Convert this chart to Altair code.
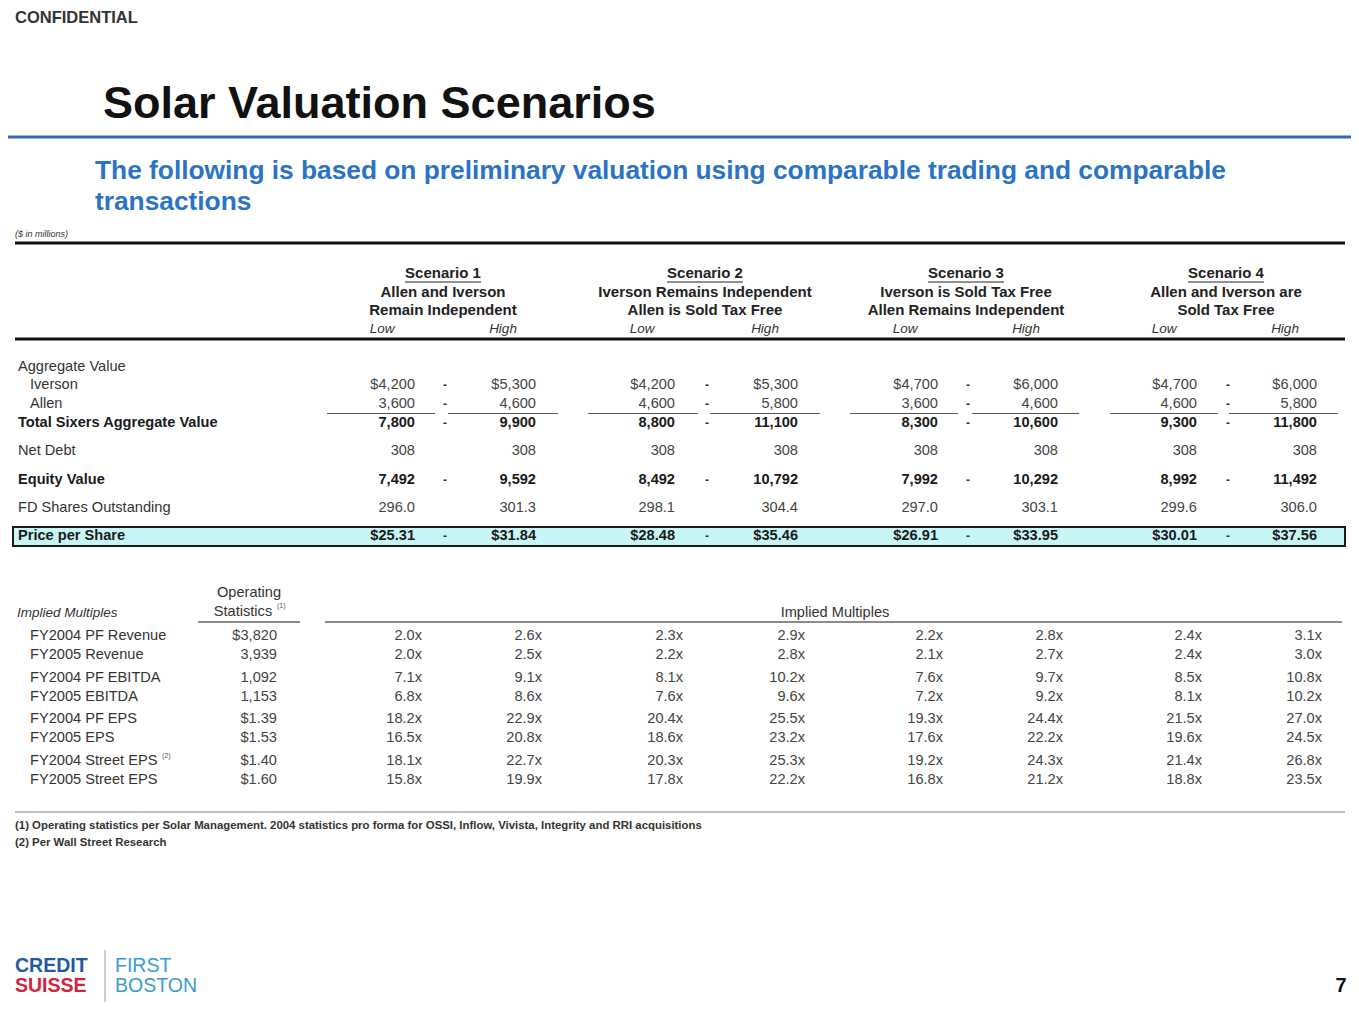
import altair as alt
import pandas as pd

# ------------------------------------------------------------------ data
confidential = "CONFIDENTIAL"
title = "Solar Valuation Scenarios"
subtitle_lines = [
    "The following is based on preliminary valuation using comparable trading and comparable",
    "transactions",
]
units_note = "($ in millions)"

scenario_titles = ["Scenario 1", "Scenario 2", "Scenario 3", "Scenario 4"]
scenario_lines = [
    ["Allen and Iverson", "Remain Independent"],
    ["Iverson Remains Independent", "Allen is Sold Tax Free"],
    ["Iverson is Sold Tax Free", "Allen Remains Independent"],
    ["Allen and Iverson are", "Sold Tax Free"],
]
range_labels = ["Low", "High"]

valuation_labels = [
    "Aggregate Value", "Iverson", "Allen", "Total Sixers Aggregate Value",
    "Net Debt", "Equity Value", "FD Shares Outstanding", "Price per Share",
]
# values per row: S1 Low, S1 High, S2 Low, S2 High, S3 Low, S3 High, S4 Low, S4 High
iverson_values = ["$4,200", "$5,300", "$4,200", "$5,300", "$4,700", "$6,000", "$4,700", "$6,000"]
allen_values = ["3,600", "4,600", "4,600", "5,800", "3,600", "4,600", "4,600", "5,800"]
total_values = ["7,800", "9,900", "8,800", "11,100", "8,300", "10,600", "9,300", "11,800"]
net_debt_values = ["308", "308", "308", "308", "308", "308", "308", "308"]
equity_values = ["7,492", "9,592", "8,492", "10,792", "7,992", "10,292", "8,992", "11,492"]
shares_values = ["296.0", "301.3", "298.1", "304.4", "297.0", "303.1", "299.6", "306.0"]
price_values = ["$25.31", "$31.84", "$28.48", "$35.46", "$26.91", "$33.95", "$30.01", "$37.56"]

multiples_left_title = "Implied Multiples"
multiples_center_title = "Implied Multiples"
operating_header = ["Operating", "Statistics"]
multiple_labels = [
    "FY2004 PF Revenue", "FY2005 Revenue", "FY2004 PF EBITDA", "FY2005 EBITDA",
    "FY2004 PF EPS", "FY2005 EPS", "FY2004 Street EPS", "FY2005 Street EPS",
]
operating_stats = ["$3,820", "3,939", "1,092", "1,153", "$1.39", "$1.53", "$1.40", "$1.60"]
s1_low = ["2.0x", "2.0x", "7.1x", "6.8x", "18.2x", "16.5x", "18.1x", "15.8x"]
s1_high = ["2.6x", "2.5x", "9.1x", "8.6x", "22.9x", "20.8x", "22.7x", "19.9x"]
s2_low = ["2.3x", "2.2x", "8.1x", "7.6x", "20.4x", "18.6x", "20.3x", "17.8x"]
s2_high = ["2.9x", "2.8x", "10.2x", "9.6x", "25.5x", "23.2x", "25.3x", "22.2x"]
s3_low = ["2.2x", "2.1x", "7.6x", "7.2x", "19.3x", "17.6x", "19.2x", "16.8x"]
s3_high = ["2.8x", "2.7x", "9.7x", "9.2x", "24.4x", "22.2x", "24.3x", "21.2x"]
s4_low = ["2.4x", "2.4x", "8.5x", "8.1x", "21.5x", "19.6x", "21.4x", "18.8x"]
s4_high = ["3.1x", "3.0x", "10.8x", "10.2x", "27.0x", "24.5x", "26.8x", "23.5x"]
multiple_columns = [s1_low, s1_high, s2_low, s2_high, s3_low, s3_high, s4_low, s4_high]

footnotes = [
    "(1)  Operating statistics per Solar Management. 2004 statistics pro forma for OSSI, Inflow, Vivista, Integrity and RRI acquisitions",
    "(2)  Per Wall Street Research",
]
logo_left = ["CREDIT", "SUISSE"]
logo_right = ["FIRST", "BOSTON"]
page_number = "7"

# ------------------------------------------------------------------ layout
W, H = 1343, 1004
X0, Y0 = 8, 8
FONT = "Liberation Sans"
FS = 14.6
xs = alt.Scale(domain=[X0, X0 + W], nice=False, zero=False)
ys = alt.Scale(domain=[Y0, Y0 + H], nice=False, zero=False, reverse=True)

header_center = [443, 705, 966, 1226]
low_center = [382, 642, 905, 1164]
high_center = [503, 765, 1026, 1285]
val_right = [415, 536, 675, 798, 938, 1058, 1197, 1317]
dash_x = [445, 707, 968, 1228]
mult_right = [422, 542, 683, 805, 943, 1063, 1202, 1322]
underline_segments = [(327, 435), (448, 558), (588, 698), (710, 820),
                      (850, 958), (972, 1079), (1110, 1218), (1229, 1338)]

row_y = [367, 385, 404, 423, 451, 480, 508, 536]
label_x = [18, 30, 30, 18, 18, 18, 18, 18]
mult_y = [636, 655, 678, 697, 719, 738, 761, 780]


def txt(rows, **props):
    df = pd.DataFrame(rows, columns=["x", "y", "t"])
    base = dict(font=FONT, baseline="middle", align="left", fontSize=FS, color="#333333")
    base.update(props)
    return alt.Chart(df).mark_text(**base).encode(
        x=alt.X("x:Q", scale=xs, axis=None),
        y=alt.Y("y:Q", scale=ys, axis=None),
        text="t:N",
    )


def hrules(rows, color="#000000", width=1.0):
    df = pd.DataFrame(rows, columns=["x", "x2", "y"])
    return alt.Chart(df).mark_rule(color=color, strokeWidth=width).encode(
        x=alt.X("x:Q", scale=xs, axis=None),
        x2="x2:Q",
        y=alt.Y("y:Q", scale=ys, axis=None),
    )


layers = []

# header block
layers.append(txt([(15, 18, confidential)], fontSize=16.5, fontWeight="bold", color="#333333"))
layers.append(txt([(103, 104, title)], fontSize=45, fontWeight="bold", color="#111111"))
layers.append(hrules([(0, 1359, 137)], color="#2b6cb8", width=3))
layers.append(txt([(95, 171, subtitle_lines[0]), (95, 202, subtitle_lines[1])],
                  fontSize=26.3, fontWeight="bold", color="#2b74c5"))
layers.append(txt([(15, 234, units_note)], fontSize=9, fontStyle="italic", color="#333333"))

# thick table rules
layers.append(hrules([(15, 1345, 243), (15, 1345, 339)], color="#111111", width=3))

# scenario headers
head_rows = []
for i, c in enumerate(header_center):
    head_rows.append((c, 273, scenario_titles[i]))
    head_rows.append((c, 292, scenario_lines[i][0]))
    head_rows.append((c, 310, scenario_lines[i][1]))
layers.append(txt(head_rows, align="center", fontWeight="bold", fontSize=15, color="#222222"))
layers.append(hrules([(c - 38, c + 38, 282) for c in header_center], color="#222222", width=1))
lh_rows = []
for i in range(4):
    lh_rows.append((low_center[i], 329, range_labels[0]))
    lh_rows.append((high_center[i], 329, range_labels[1]))
layers.append(txt(lh_rows, align="center", fontStyle="italic", fontSize=13.5, color="#333333"))

# price per share highlight box
box = pd.DataFrame({"x": [13], "x2": [1345], "y": [527], "y2": [546]})
layers.append(alt.Chart(box).mark_rect(fill="#c8f6f6", stroke="#1a1a1a", strokeWidth=2).encode(
    x=alt.X("x:Q", scale=xs, axis=None), x2="x2:Q",
    y=alt.Y("y:Q", scale=ys, axis=None), y2="y2:Q"))

# row labels
bold_rows = {3, 5, 7}
reg_lab = [(label_x[i], row_y[i], valuation_labels[i]) for i in range(8) if i not in bold_rows]
bold_lab = [(label_x[i], row_y[i], valuation_labels[i]) for i in range(8) if i in bold_rows]
layers.append(txt(reg_lab, color="#333333"))
layers.append(txt(bold_lab, fontWeight="bold", color="#1a1a1a"))

# values
reg_vals, bold_vals = [], []
for j in range(8):
    reg_vals.append((val_right[j], row_y[1], iverson_values[j]))
    reg_vals.append((val_right[j], row_y[2], allen_values[j]))
    reg_vals.append((val_right[j], row_y[4], net_debt_values[j]))
    reg_vals.append((val_right[j], row_y[6], shares_values[j]))
    bold_vals.append((val_right[j], row_y[3], total_values[j]))
    bold_vals.append((val_right[j], row_y[5], equity_values[j]))
    bold_vals.append((val_right[j], row_y[7], price_values[j]))
layers.append(txt(reg_vals, align="right", color="#444444"))
layers.append(txt(bold_vals, align="right", fontWeight="bold", color="#1a1a1a"))

# dashes between low and high
dash_rows = [(dx, row_y[r], "-") for dx in dash_x for r in (1, 2, 3, 5, 7)]
layers.append(txt(dash_rows, align="center", fontWeight="bold", fontSize=12, color="#333333"))

# subtotal underlines
layers.append(hrules([(a, b, 413.5) for a, b in underline_segments], color="#555555", width=1.2))

# implied multiples section
layers.append(txt([(17, 613, multiples_left_title)], fontStyle="italic", fontSize=13.5, color="#333333"))
layers.append(txt([(249, 593, operating_header[0]), (243, 612, operating_header[1]),
                   (835, 613, multiples_center_title)], align="center", color="#333333"))
layers.append(txt([(277, 606, "(1)"), (162, 756, "(2)")], fontSize=7, color="#555555"))
layers.append(hrules([(198, 300, 622), (325, 1342, 622)], color="#8a8a8a", width=2))
layers.append(txt([(30, mult_y[i], multiple_labels[i]) for i in range(8)], color="#333333"))
op_rows = [(277, mult_y[i], operating_stats[i]) for i in range(8)]
mult_rows = [(mult_right[j], mult_y[i], multiple_columns[j][i]) for j in range(8) for i in range(8)]
layers.append(txt(op_rows + mult_rows, align="right", color="#444444"))

# footnotes
layers.append(hrules([(15, 1345, 812)], color="#aaaaaa", width=1.5))
layers.append(txt([(15, 826, footnotes[0]), (15, 843, footnotes[1])],
                  fontSize=11.4, fontWeight="bold", color="#333333"))

# logo and page number
layers.append(txt([(15, 966, logo_left[0])], fontSize=19.5, fontWeight="bold", color="#1f5aa6"))
layers.append(txt([(15, 986, logo_left[1])], fontSize=19.5, fontWeight="bold", color="#d3243f"))
layers.append(txt([(115, 966, logo_right[0]), (115, 986, logo_right[1])], fontSize=19.5, color="#3b9bcf"))
vline = pd.DataFrame({"x": [105], "y": [950], "y2": [1002]})
layers.append(alt.Chart(vline).mark_rule(color="#bbbbbb", strokeWidth=1.5).encode(
    x=alt.X("x:Q", scale=xs, axis=None),
    y=alt.Y("y:Q", scale=ys, axis=None), y2="y2:Q"))
layers.append(txt([(1341, 986, page_number)], align="center", fontSize=20, fontWeight="bold", color="#111111"))

chart = alt.layer(*layers).properties(
    width=W, height=H, padding=0, autosize=alt.AutoSizeParams(type="none"),
    background="white",
).configure_view(stroke=None)

chart.save("out.html", embed_options={"renderer": "svg", "actions": False})
